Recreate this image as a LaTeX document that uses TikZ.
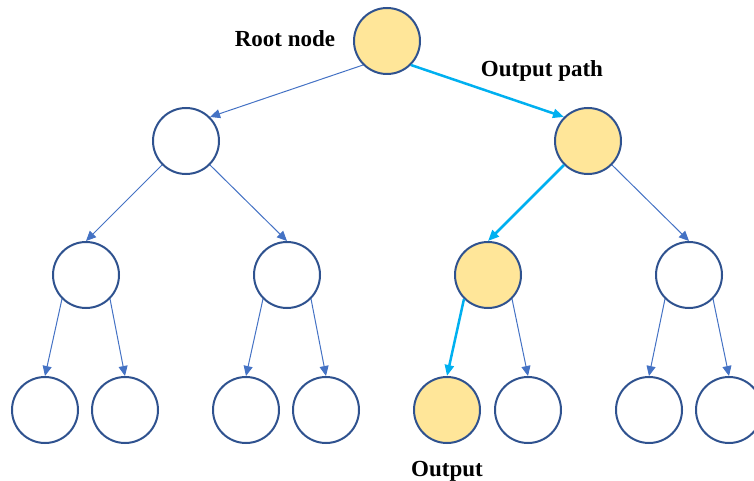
\documentclass[tikz,border=0pt]{standalone}
\usepackage{fontspec}
\setmainfont{Liberation Serif}
\usetikzlibrary{arrows.meta}
\definecolor{NodeBlue}{HTML}{2F528F}
\definecolor{EdgeBlue}{HTML}{4472C4}
\definecolor{PathCyan}{HTML}{00B0F0}
\definecolor{PathGold}{HTML}{FFE699}
\tikzset{
  treenode/.style={circle, draw=NodeBlue, fill=white, line width=2pt, minimum size=66pt, inner sep=0pt},
  pathnode/.style={treenode, fill=PathGold},
  arrow/.style={-{Triangle[length=10pt, width=9pt]}, line width=1pt, draw=EdgeBlue},
  patharrow/.style={-{Triangle[length=11pt, width=9pt]}, line width=2.5pt, draw=PathCyan},
  note/.style={font=\fontsize{23}{27}\selectfont\bfseries, anchor=base, inner sep=0pt}
}

\begin{document}
\begin{tikzpicture}[x=1pt, y=-1pt]
    \useasboundingbox (0,0) rectangle (754,481);
    % levels of the tree
    \node[pathnode] (root) at (387,41) {};
    \node[treenode] (l) at (186,141) {};
    \node[pathnode] (r) at (588,141) {};
    \node[treenode] (ll) at (86,275) {};
    \node[treenode] (lr) at (287,275) {};
    \node[pathnode] (rl) at (488,275) {};
    \node[treenode] (rr) at (689,275) {};
    \node[treenode] (lll) at (45,410) {};
    \node[treenode] (llr) at (125,410) {};
    \node[treenode] (lrl) at (246,410) {};
    \node[treenode] (lrr) at (326,410) {};
    \node[pathnode] (rll) at (447,410) {};
    \node[treenode] (rlr) at (528,410) {};
    \node[treenode] (rrl) at (649,410) {};
    \node[treenode] (rrr) at (729,410) {};

    \node[note] (rootlbl) at (285,47) {Root node};
    \node[note] (pathlbl) at (542,77) {Output path};
    \node[note] (outlbl) at (447,476) {Output};

    \draw[arrow] (root.south west) -- (l.north east);
    \draw[patharrow] (root.south east) -- (r.north west);
    \draw[arrow] (l.south west) -- (ll.north);
    \draw[arrow] (l.south east) -- (lr.north);
    \draw[patharrow] (r.south west) -- (rl.north);
    \draw[arrow] (r.south east) -- (rr.north);
    \draw[arrow] (ll.south west) -- (lll.north);
    \draw[arrow] (ll.south east) -- (llr.north);
    \draw[arrow] (lr.south west) -- (lrl.north);
    \draw[arrow] (lr.south east) -- (lrr.north);
    \draw[patharrow] (rl.south west) -- (rll.north);
    \draw[arrow] (rl.south east) -- (rlr.north);
    \draw[arrow] (rr.south west) -- (rrl.north);
    \draw[arrow] (rr.south east) -- (rrr.north);
  \end{tikzpicture}
\end{document}
